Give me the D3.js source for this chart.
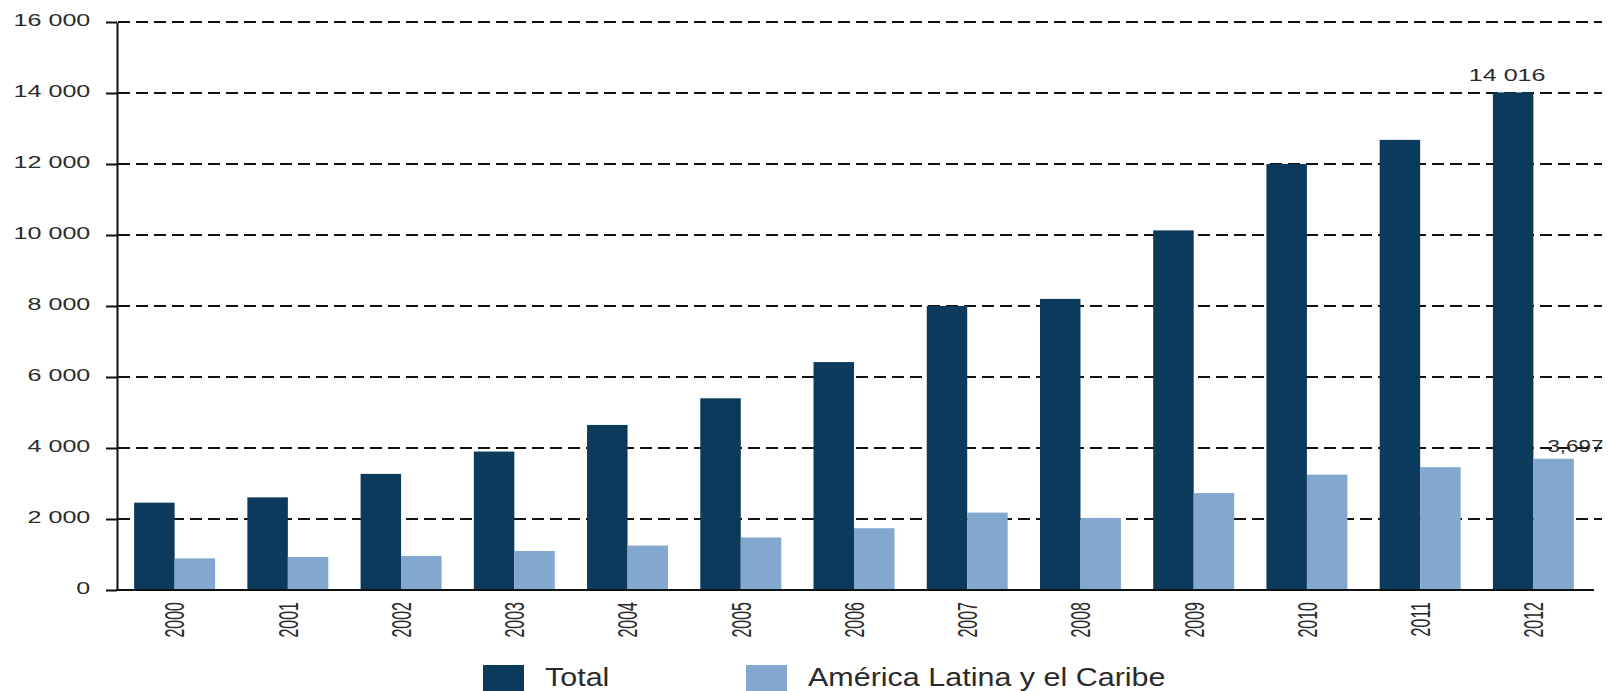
<!DOCTYPE html>
<head>
  <meta charset="utf-8">
  <script src="https://cdn.jsdelivr.net/npm/d3@7"></script>
  <style>
    body { margin:0; background:#fff; }
    text { font-family: "Liberation Sans", Arial, sans-serif; fill:#2b2b2b; }
  </style>
</head>
<body>
  <script>
    // data
    var years = ["2000","2001","2002","2003","2004","2005","2006","2007","2008","2009","2010","2011","2012"];
    var total = [2460, 2610, 3270, 3900, 4650, 5400, 6420, 8000, 8200, 10130, 12000, 12680, 14016];
    var latam = [890, 930, 960, 1100, 1250, 1480, 1740, 2180, 2030, 2730, 3250, 3460, 3697];
    var seriesNames = ["Total", "América Latina y el Caribe"];
    var seriesColors = ["#0b3a5d", "#82a8cf"];
    var yTicks = [0, 2000, 4000, 6000, 8000, 10000, 12000, 14000, 16000];

    var width = 1614, height = 691;
    var sx = 1.57; // the picture is stretched sideways

    var svg = d3.select("body").append("svg")
      .attr("width", width)
      .attr("height", height);

    var x = d3.scaleBand().domain(years).range([118, 1590]).paddingInner(0.285).paddingOuter(0.1425);
    var xSub = d3.scaleBand().domain([0, 1]).range([0, x.bandwidth()]);
    var y = d3.scaleLinear().domain([0, 16000]).range([590, 22]);

    var fmt = function(v) { return d3.format(",")(v).replace(/,/g, " "); };

    // dashed grid
    svg.append("g").selectAll("line")
      .data(yTicks.filter(function(d) { return d > 0; }))
      .enter().append("line")
      .attr("x1", 118).attr("x2", 1602)
      .attr("y1", function(d) { return y(d); })
      .attr("y2", function(d) { return y(d); })
      .style("stroke", "#111")
      .style("stroke-width", 2)
      .style("stroke-dasharray", "12,6");

    // bars
    var groups = svg.append("g").selectAll("g")
      .data(years)
      .enter().append("g")
      .attr("transform", function(d) { return "translate(" + x(d) + ",0)"; });

    groups.selectAll("rect")
      .data(function(d, i) { return [total[i], latam[i]]; })
      .enter().append("rect")
      .attr("x", function(d, j) { return xSub(j); })
      .attr("width", xSub.bandwidth())
      .attr("y", function(d) { return y(d); })
      .attr("height", function(d) { return y(0) - y(d); })
      .style("fill", function(d, j) { return seriesColors[j]; });

    // y axis
    var yAxis = svg.append("g")
      .attr("transform", "translate(117,0)")
      .call(d3.axisLeft(y).tickValues(yTicks).tickFormat(fmt).tickSize(11).tickPadding(6).tickSizeOuter(0));
    yAxis.select(".domain").style("stroke", "#111").style("stroke-width", 2);
    yAxis.selectAll(".tick line").style("stroke", "#111").style("stroke-width", 2);
    yAxis.selectAll(".tick text")
      .attr("dy", "0.22em")
      .attr("transform", "scale(" + sx + ",1)")
      .style("font-size", "16px");

    // x axis
    var xAxis = svg.append("g")
      .attr("transform", "translate(0,590)")
      .attr("font-size", 16)
      .call(d3.axisBottom(x).tickSize(0).tickSizeOuter(0));
    xAxis.attr("font-size", 16);
    xAxis.select(".domain").remove();
    svg.append("line")
      .attr("x1", 116).attr("x2", 1594)
      .attr("y1", 590).attr("y2", 590)
      .style("stroke", "#111").style("stroke-width", 2);
    xAxis.selectAll(".tick text")
      .attr("x", -12).attr("y", 0).attr("dy", "0.36em")
      .attr("text-anchor", "end")
      .attr("font-size", 16)
      .style("font-size", "16px")
      .attr("transform", "scale(1.7,1) rotate(-90)");

    // value labels on 2012
    var last = years.length - 1;
    svg.append("g")
      .attr("transform", "translate(" + (x(years[last]) + xSub(0) + xSub.bandwidth() / 2 - 6) + "," + (y(total[last]) - 11) + ")")
      .append("text")
      .attr("text-anchor", "middle")
      .attr("transform", "scale(" + sx + ",1)")
      .style("font-size", "16px")
      .text(fmt(total[last]));

    svg.append("g")
      .attr("transform", "translate(" + (x(years[last]) + xSub(1) + 14) + "," + (y(latam[last]) - 7) + ")")
      .append("text")
      .attr("transform", "scale(1.4,1)")
      .style("font-size", "16px")
      .text(d3.format(",")(latam[last]));

    // legend
    var legendX = [483, 746];
    var legend = svg.append("g").selectAll("g")
      .data(seriesNames)
      .enter().append("g")
      .attr("transform", function(d, i) { return "translate(" + legendX[i] + ",665)"; });
    legend.append("rect")
      .attr("width", 41).attr("height", 26)
      .style("fill", function(d, i) { return seriesColors[i]; });
    legend.append("text")
      .attr("x", 62 / 1.22).attr("y", 21)
      .attr("transform", "scale(1.22,1)")
      .style("font-size", "25px")
      .text(function(d) { return d; });
  </script>
</body>
